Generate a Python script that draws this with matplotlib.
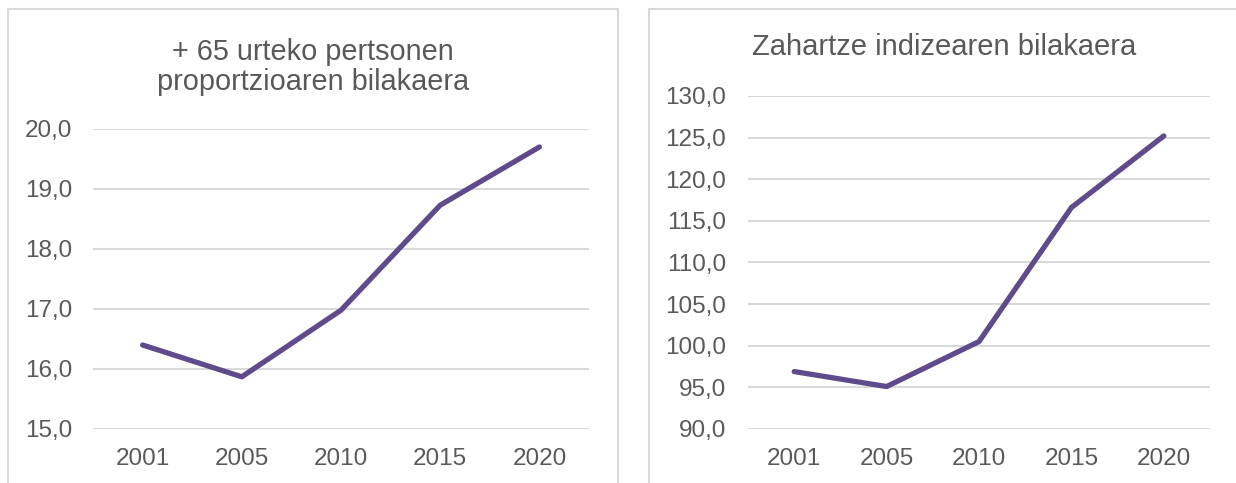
import matplotlib.pyplot as plt
from matplotlib.patches import Rectangle

plt.rcParams['font.family'] = ['Liberation Sans', 'DejaVu Sans']

years = ['2001', '2005', '2010', '2015', '2020']
pct_65 = [16.4, 15.87, 16.98, 18.73, 19.70]
aging_index = [96.9, 95.1, 100.5, 116.6, 125.2]

title_left = '+ 65 urteko pertsonen\nproportzioaren bilakaera'
title_right = 'Zahartze indizearen bilakaera'

line_color = '#5F4B8B'
text_color = '#595959'
grid_color = '#D9D9D9'

W, H = 1236, 483
fig = plt.figure(figsize=(W / 100, H / 100), dpi=100)


def px_axes(x0, x1, ytop, ybot):
    return fig.add_axes([x0 / W, 1 - ybot / H, (x1 - x0) / W, (ybot - ytop) / H])


# chart frames
fig.patches.append(Rectangle((8 / W, -0.1), 610 / W, 1.1 - 9 / H, transform=fig.transFigure,
                             fill=False, edgecolor=grid_color, lw=1.5))
fig.patches.append(Rectangle((649 / W, -0.1), 620 / W, 1.1 - 9 / H, transform=fig.transFigure,
                             fill=False, edgecolor=grid_color, lw=1.5))


def style(ax, ticks, fmt, ypad):
    ax.set_xlim(-0.5, 4.5)
    ax.set_yticks(ticks)
    ax.set_yticklabels([fmt(t) for t in ticks])
    ax.set_ylim(ticks[0], ticks[-1])
    ax.grid(axis='y', color=grid_color, lw=1.5)
    ax.set_axisbelow(True)
    for s in ax.spines.values():
        s.set_visible(False)
    ax.tick_params(length=0, labelsize=17.5, colors=text_color)
    ax.tick_params(axis='x', pad=14)
    ax.tick_params(axis='y', pad=ypad)
    ax.patch.set_alpha(0)


ax1 = px_axes(93, 589, 129, 429)
ax1.plot(years, pct_65, color=line_color, lw=3.8, solid_capstyle='round', solid_joinstyle='round')
style(ax1, [15, 16, 17, 18, 19, 20], lambda t: f'{t:.1f}'.replace('.', ','), 15)
fig.text(313 / W, 1 - 67 / H, title_left, ha='center', va='center', fontsize=20.8,
         color=text_color, linespacing=1.1)

ax2 = px_axes(748, 1210, 96, 429)
ax2.plot(years, aging_index, color=line_color, lw=3.8, solid_capstyle='round', solid_joinstyle='round')
style(ax2, [90, 95, 100, 105, 110, 115, 120, 125, 130], lambda t: f'{t:.1f}'.replace('.', ','), 16)
fig.text(944 / W, 1 - 47 / H, title_right, ha='center', va='center', fontsize=21,
         color=text_color)

fig.savefig('out.png', dpi=100)
